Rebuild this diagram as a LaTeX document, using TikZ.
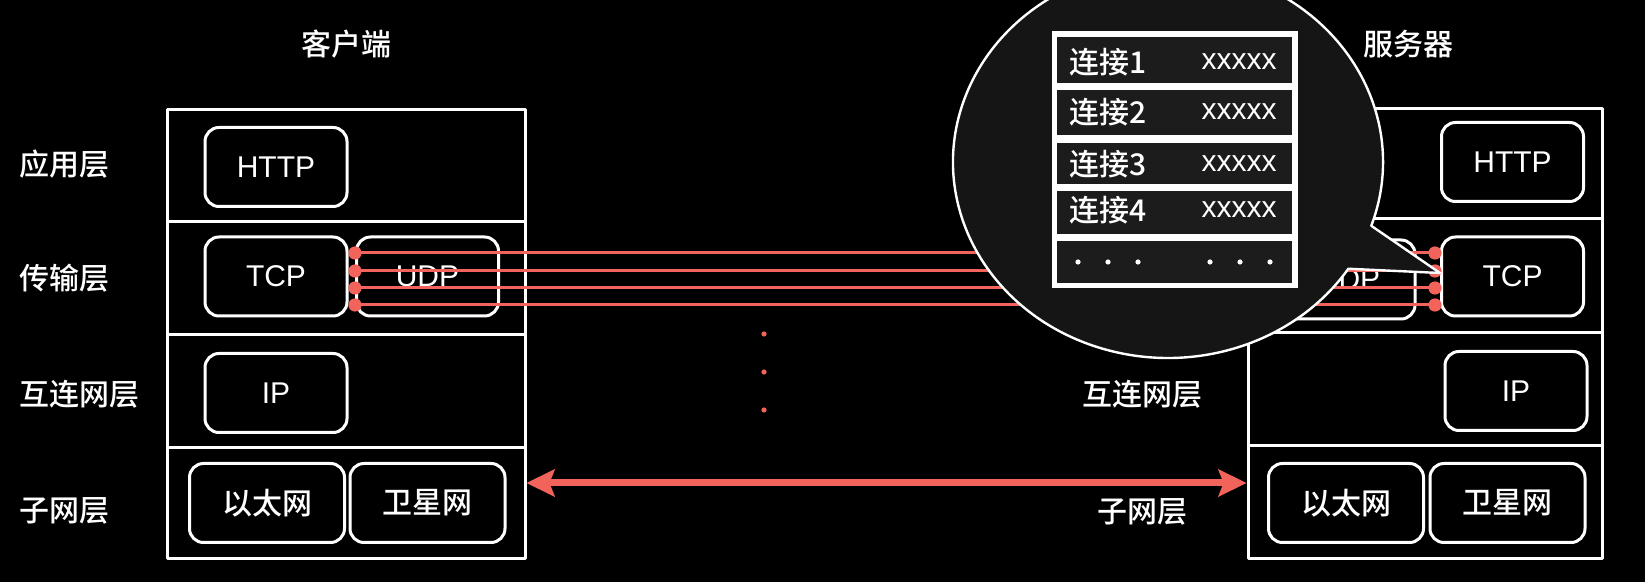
\documentclass[tikz,border=0pt]{standalone}
\usepackage{fontspec}
\setmainfont{Liberation Sans}
\newfontfamily\cjk{Noto Sans CJK SC Medium}
\usetikzlibrary{arrows.meta}
\definecolor{linkred}{HTML}{F2635C}
\definecolor{bubblegray}{HTML}{151515}
\definecolor{rowgray}{HTML}{1C1C1C}
\tikzset{
  frame/.style={draw=white, line width=1.5pt, inner sep=0pt},
  proto/.style={draw=white, line width=1.5pt, rounded corners=7pt, text=white,
    minimum width=71pt, minimum height=39.5pt, inner sep=0pt},
  wideproto/.style={proto, minimum width=77.5pt},
  layer/.style={text=white, font=\cjk\fontsize{15}{18}\selectfont, inner sep=0pt},
  rowtxt/.style={text=white, inner sep=0pt},
  conn/.style={linkred, line width=1.5pt},
  bubble/.style={draw=white, fill=bubblegray, line width=1.2pt},
}
\begin{document}
\begin{tikzpicture}[x=0.5pt, y=-0.5pt, font=\fontsize{15}{18}\selectfont, line join=round, >=Stealth]
\fill[black] (0,0) rectangle (1645,582);
\clip (0,0) rectangle (1645,582);
% stacks
\node[frame, minimum width=179pt, minimum height=224.5pt] (client) at (346,334.5) {};
\node[frame, minimum width=177pt, minimum height=225pt] (server) at (1425,334) {};
\foreach \y in {222,335,448}
  \draw[frame] (167,\y) -- (525,\y);
\foreach \y in {219,333,446}
  \draw[frame] (1248,\y) -- (1602,\y);
\node[layer] (clientlbl) at (346,44) {客户端};
\node[layer] (serverlbl) at (1408,44) {服务器};
% layer names
\node[layer, anchor=west] (app) at (19,164) {应用层};
\node[layer, anchor=west] (trans) at (19,278) {传输层};
\node[layer, anchor=west] (net) at (19,394) {互连网层};
\node[layer, anchor=west] (sub) at (19,511) {子网层};
\node[layer] (snet) at (1142,394) {互连网层};
\node[layer] (ssub) at (1142,512) {子网层};
% client protocols
\node[proto] (chttp) at (276,167) {HTTP};
\node[proto] (ctcp) at (276,276.5) {TCP};
\node[proto] (cudp) at (427.5,276.5) {UDP};
\node[proto] (cip) at (276,393) {IP};
\node[wideproto, font=\cjk\fontsize{15}{18}\selectfont] (ceth) at (267,503) {以太网};
\node[wideproto, font=\cjk\fontsize{15}{18}\selectfont] (csat) at (427.5,503) {卫星网};
% server protocols
\node[proto] (shttp) at (1512.5,162) {HTTP};
\node[proto] (stcp) at (1512.5,276.5) {TCP};
\node[proto, minimum width=66.5pt] (sudp) at (1348.5,279.5) {UDP};
\node[proto] (sip) at (1516,391) {IP};
\node[wideproto, font=\cjk\fontsize{15}{18}\selectfont] (seth) at (1346,503) {以太网};
\node[wideproto, font=\cjk\fontsize{15}{18}\selectfont] (ssat) at (1507.5,503) {卫星网};
% tcp connections
\foreach \y [count=\i] in {253,271,288,305}{
  \coordinate (l\i) at (355,\y);
  \coordinate (r\i) at (1435,\y);
  \draw[conn] (l\i) -- (r\i);
  \fill[linkred] (l\i) circle (3.3pt) (r\i) circle (3.3pt);
}
\foreach \y in {334,372,410}
  \fill[linkred] (764,\y) circle (1.3pt);
% subnet link
\coordinate (link) at (0,483);
\draw[linkred, line width=3.5pt, {Stealth[length=14pt,width=13.5pt,inset=2.5pt]}-{Stealth[length=14pt,width=13.5pt,inset=2.5pt]}]
  (client.east |- link) -- (server.west |- link);
% callout with the connection table
\coordinate (tip) at (1440,273);
\filldraw[bubble] (1168,162) ++(-19:107.5pt and 98pt)
  arc[start angle=-19, end angle=327, x radius=107.5pt, y radius=98pt] -- (tip) -- cycle;
\fill[white] (1052,31) rectangle (1298,288);
\foreach \t/\b in {37/83, 90/135, 143/184, 191/234, 241/283}
  \fill[rowgray] (1057,\t) rectangle (1292,\b);
\foreach \y [count=\i] in {62,112,164,210}{
  \node[rowtxt, anchor=west, font=\cjk\fontsize{15}{18}\selectfont] (conn\i) at (1069,\y) {连接\i};
  \node[rowtxt, anchor=east] (val\i) at (1277,\y) {xxxxx};
}
\foreach \x in {1078,1108,1138,1210,1240,1270}
  \fill[white] (\x,262) circle (1.3pt);
\end{tikzpicture}
\end{document}
